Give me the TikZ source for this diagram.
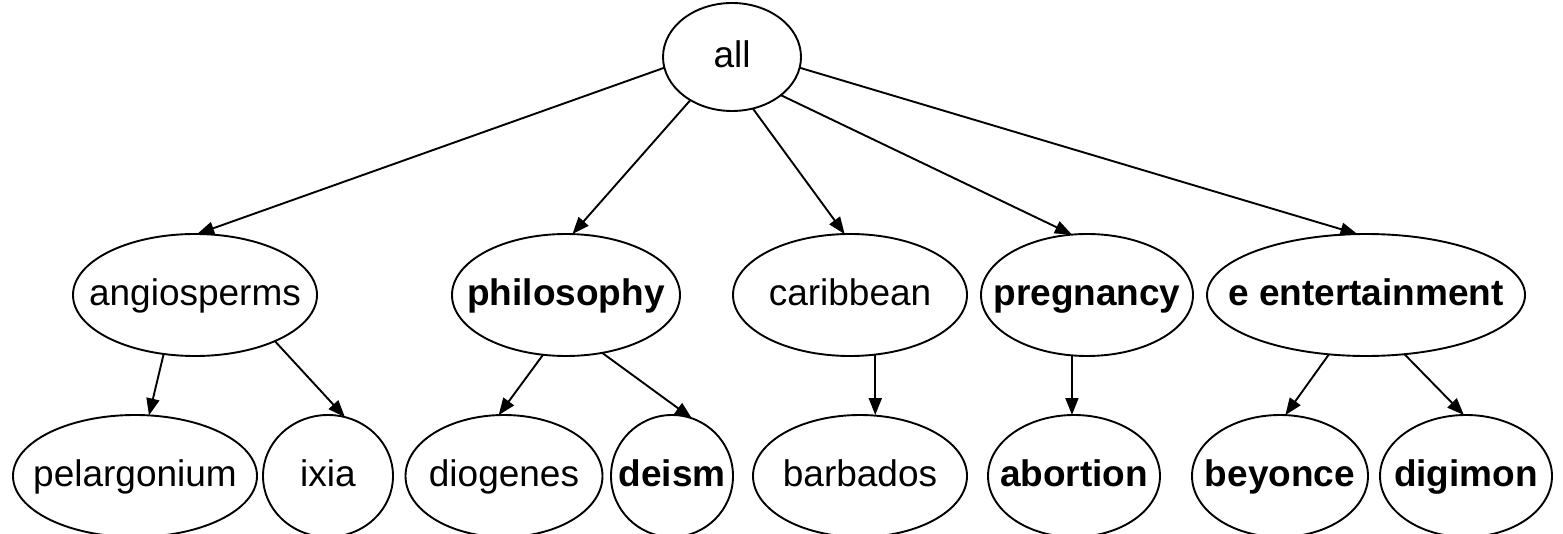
\documentclass[tikz,border=0pt]{standalone}
\usepackage{fontspec}
\setmainfont{Liberation Sans}
\usetikzlibrary{arrows.meta,shapes.geometric}
% text inside a zero-width box so that the ellipse size is set only by the style
\newcommand{\nodetext}[1]{\makebox[0pt]{#1}}
\begin{document}
\begin{tikzpicture}[x=1pt,y=-1pt,
  vert/.style={draw, ellipse, line width=1.9pt, inner sep=0pt, outer sep=0pt,
    minimum height=122pt, font=\fontsize{37}{44}\selectfont,
    text height=28pt, text depth=7pt},
  hl/.style={font=\fontsize{37}{44}\selectfont\bfseries},
  link/.style={line width=1.9pt, -{Triangle[length=17pt,width=13pt]}}]
\useasboundingbox (0,0) rectangle (1563,534);

% root
\node[vert, minimum width=138pt, minimum height=108pt] (all) at (732,57) {\nodetext{all}};

% second level
\node[vert, minimum width=244pt] (angiosperms) at (195,295) {\nodetext{angiosperms}};
\node[vert, hl, minimum width=228pt] (philosophy) at (566,295) {\nodetext{philosophy}};
\node[vert, minimum width=234pt] (caribbean) at (850,295) {\nodetext{caribbean}};
\node[vert, hl, minimum width=212pt] (pregnancy) at (1087,295) {\nodetext{pregnancy}};
\node[vert, hl, minimum width=318pt] (eent) at (1366,295) {\nodetext{e entertainment}};

% leaves
\node[vert, minimum width=244pt] (pelargonium) at (135,476) {\nodetext{pelargonium}};
\node[vert, minimum width=130pt] (ixia) at (328,476) {\nodetext{ixia}};
\node[vert, minimum width=197pt] (diogenes) at (504,476) {\nodetext{diogenes}};
\node[vert, hl, minimum width=122pt] (deism) at (672,476) {\nodetext{deism}};
\node[vert, minimum width=214pt] (barbados) at (860,476) {\nodetext{barbados}};
\node[vert, hl, minimum width=172pt] (abortion) at (1074,476) {\nodetext{abortion}};
\node[vert, hl, minimum width=176pt] (beyonce) at (1280,476) {\nodetext{beyonce}};
\node[vert, hl, minimum width=172pt] (digimon) at (1466,476) {\nodetext{digimon}};

% root edges
\draw[link] (all.189) -- (angiosperms.88);
\draw[link] (all.226) -- (philosophy.84);
\draw[link] (all.292) -- (caribbean.95);
\draw[link] (all.322) -- (pregnancy.104);
\draw[link] (all.351) -- (eent.98);

% second level edges
\draw[link] (angiosperms.242) -- (pelargonium.77);
\draw[link] (angiosperms.330) -- (ixia.74);
\draw[link] (philosophy.249) -- (diogenes.95);
\draw[link] (philosophy.302) -- (deism.71);
\draw[link] (caribbean.293) -- (caribbean.293 |- barbados.north);
\draw[link] (pregnancy.256) -- (pregnancy.256 |- abortion.north);
\draw[link] (eent.238) -- (beyonce.85);
\draw[link] (eent.303) -- (digimon.92);
\end{tikzpicture}
\end{document}
